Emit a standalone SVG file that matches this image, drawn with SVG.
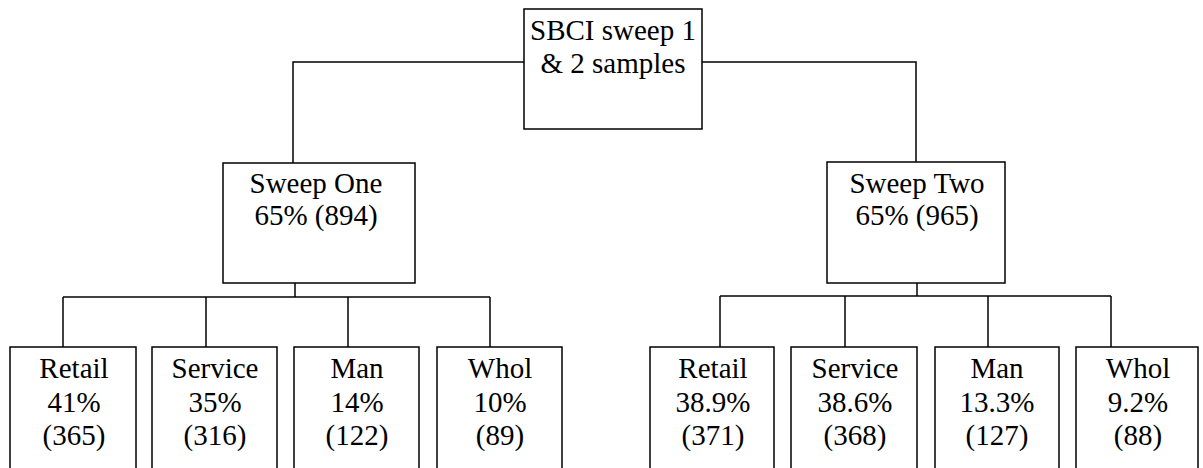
<svg xmlns="http://www.w3.org/2000/svg" width="1203" height="468" viewBox="0 0 1203 468">
<style>
.box{fill:#fff;stroke:#000;stroke-width:1.5}
.ln{fill:none;stroke:#000;stroke-width:1.5}
.t{font-family:'Liberation Serif',Tinos,'DejaVu Serif',serif;font-size:29px;fill:#000;text-anchor:middle}
</style>
<rect width="1203" height="468" fill="#fff"/>
<g id="connectors">
<polyline class="ln" points="524,62 293,62 293,163"/>
<polyline class="ln" points="702,62 916,62 916,162"/>
<line class="ln" x1="295" y1="283" x2="295" y2="297"/>
<line class="ln" x1="63" y1="297" x2="490" y2="297"/>
<line class="ln" x1="63" y1="297" x2="63" y2="347"/>
<line class="ln" x1="206" y1="297" x2="206" y2="347"/>
<line class="ln" x1="348" y1="297" x2="348" y2="347"/>
<line class="ln" x1="490" y1="297" x2="490" y2="347"/>
<line class="ln" x1="917" y1="283" x2="917" y2="296"/>
<line class="ln" x1="720" y1="296" x2="1111" y2="296"/>
<line class="ln" x1="720" y1="296" x2="720" y2="347"/>
<line class="ln" x1="845" y1="296" x2="845" y2="347"/>
<line class="ln" x1="988" y1="296" x2="988" y2="347"/>
<line class="ln" x1="1111" y1="296" x2="1111" y2="347"/>
</g>
<g class="t" font-family="Liberation Serif, serif">
<g id="root">
<rect class="box" x="524" y="9" width="178" height="120"/>
<text x="613" y="40">SBCI sweep 1</text>
<text x="613" y="73">&amp; 2 samples</text>
</g>
<g id="sweep1">
<rect class="box" x="223" y="163" width="192" height="120"/>
<text x="316" y="193">Sweep One</text>
<text x="316" y="225">65% (894)</text>
</g>
<g id="sweep2">
<rect class="box" x="827" y="162" width="178" height="121"/>
<text x="917" y="193">Sweep Two</text>
<text x="917" y="225">65% (965)</text>
</g>
<g id="s1-retail">
<rect class="box" x="10" y="347" width="126" height="130"/>
<text x="74" y="378">Retail</text><text x="74" y="412">41%</text><text x="74" y="445">(365)</text>
</g>
<g id="s1-service">
<rect class="box" x="152" y="347" width="125" height="130"/>
<text x="215" y="378">Service</text><text x="215" y="412">35%</text><text x="215" y="445">(316)</text>
</g>
<g id="s1-man">
<rect class="box" x="294" y="347" width="125" height="130"/>
<text x="357" y="378">Man</text><text x="357" y="412">14%</text><text x="357" y="445">(122)</text>
</g>
<g id="s1-whol">
<rect class="box" x="437" y="347" width="125" height="130"/>
<text x="500" y="378">Whol</text><text x="500" y="412">10%</text><text x="500" y="445">(89)</text>
</g>
<g id="s2-retail">
<rect class="box" x="650" y="347" width="124" height="130"/>
<text x="713" y="378">Retail</text><text x="713" y="412">38.9%</text><text x="713" y="445">(371)</text>
</g>
<g id="s2-service">
<rect class="box" x="791" y="347" width="126" height="130"/>
<text x="855" y="378">Service</text><text x="855" y="412">38.6%</text><text x="855" y="445">(368)</text>
</g>
<g id="s2-man">
<rect class="box" x="935" y="347" width="124" height="130"/>
<text x="997" y="378">Man</text><text x="997" y="412">13.3%</text><text x="997" y="445">(127)</text>
</g>
<g id="s2-whol">
<rect class="box" x="1076" y="347" width="122" height="130"/>
<text x="1138" y="378">Whol</text><text x="1138" y="412">9.2%</text><text x="1138" y="445">(88)</text>
</g>
</g>
</svg>
